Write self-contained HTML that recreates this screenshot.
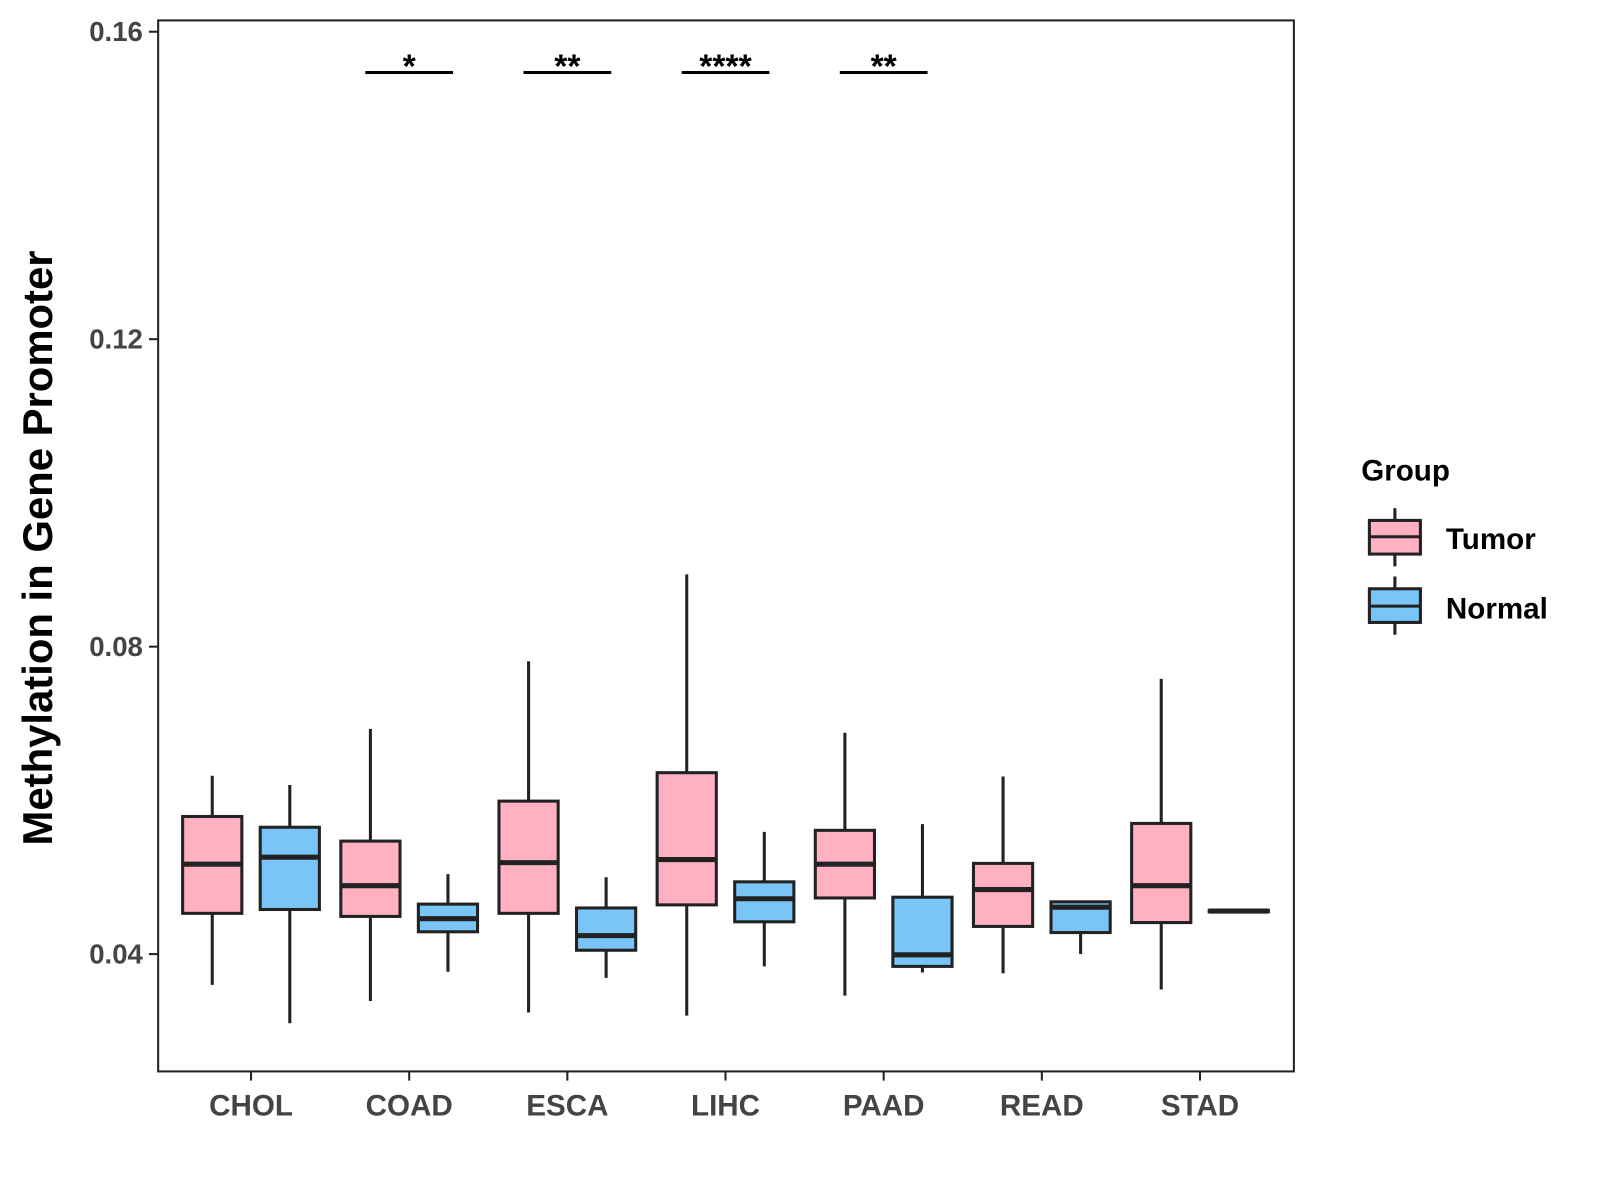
<!DOCTYPE html>
<html><head><meta charset="utf-8"><style>
body{margin:0;background:#fff;}
svg{display:block;font-family:"Liberation Sans",Arial,sans-serif;}
</style></head><body>
<svg id="chart" width="1600" height="1200" viewBox="0 0 1568 1176" xmlns="http://www.w3.org/2000/svg">
<rect x="0" y="0" width="1568" height="1176" fill="#fff"/>
<g id="marks"></g>
<rect x="155" y="20" width="1113" height="1030" fill="none" stroke="#222" stroke-width="2"/>
<g id="axes"></g>
<text transform="translate(51,537) rotate(-90)" text-anchor="middle" font-size="41" font-weight="bold" fill="#000">Methylation in Gene Promoter</text>
<g>
<text x="1334" y="471" font-size="29" font-weight="bold" fill="#000">Group</text>
<g>
<line x1="1367" y1="498" x2="1367" y2="555" stroke="#222" stroke-width="3"/>
<rect x="1342" y="510" width="50" height="33" fill="#FFB0C1" stroke="#222" stroke-width="3"/>
<line x1="1342" y1="526" x2="1392" y2="526" stroke="#222" stroke-width="3"/>
<text x="1417" y="538" font-size="29" font-weight="bold" fill="#000">Tumor</text></g>
<g>
<line x1="1367" y1="565" x2="1367" y2="622" stroke="#222" stroke-width="3"/>
<rect x="1342" y="577" width="50" height="33" fill="#7AC5F8" stroke="#222" stroke-width="3"/>
<line x1="1342" y1="594" x2="1392" y2="594" stroke="#222" stroke-width="3"/>
<text x="1417" y="606" font-size="29" font-weight="bold" fill="#000">Normal</text></g>
</g>
</svg>
<script>
const categories=["CHOL","COAD","ESCA","LIHC","PAAD","READ","STAD"];
// [min, q1, median, q3, max]
const tumorStats=[[0.0360,0.0453,0.0517,0.0579,0.0632],[0.0339,0.0449,0.0489,0.0547,0.0693],[0.0324,0.0453,0.0519,0.0599,0.0781],[0.0320,0.0464,0.0523,0.0636,0.0894],[0.0346,0.0473,0.0517,0.0561,0.0688],[0.0375,0.0436,0.0484,0.0518,0.0631],[0.0354,0.0441,0.0489,0.0570,0.0758]];
const normalStats=[[0.0310,0.0458,0.0526,0.0565,0.0620],[0.0377,0.0429,0.0446,0.0465,0.0504],[0.0369,0.0405,0.0424,0.0460,0.0500],[0.0384,0.0442,0.0472,0.0494,0.0559],[0.0376,0.0384,0.0399,0.0474,0.0569],[0.0400,0.0428,0.0461,0.0468,0.0469],[0.0454,0.0455,0.0456,0.0457,0.0458]];
const yTicks=[0.04,0.08,0.12,0.16];
const yTickLabels=["0.04","0.08","0.12","0.16"];
const sigCategories=["COAD","ESCA","LIHC","PAAD"];
const sigLabels=["*","**","****","**"];
const sigLevel=0.1547;

const NS="http://www.w3.org/2000/svg";
const y=v=>935-(v-0.04)*7532.5;
const x=i=>246+i*155;
function mk(tag,attrs,parent){const e=document.createElementNS(NS,tag);for(const k in attrs)e.setAttribute(k,attrs[k]);parent.appendChild(e);return e;}
const marks=document.getElementById('marks'),axes=document.getElementById('axes');
function box(cx,s,fill,name){
  const g=mk('g',{},marks);
  
  
  const w=58;
  mk('line',{x1:cx,x2:cx,y1:y(s[4]),y2:y(s[3]),stroke:'#222','stroke-width':3},g);
  mk('line',{x1:cx,x2:cx,y1:y(s[1]),y2:y(s[0]),stroke:'#222','stroke-width':3},g);
  mk('rect',{x:cx-w/2,y:y(s[3]),width:w,height:Math.max(y(s[1])-y(s[3]),1),fill:fill,stroke:'#222','stroke-width':3},g);
  mk('line',{x1:cx-w/2,x2:cx+w/2,y1:y(s[2]),y2:y(s[2]),stroke:'#222','stroke-width':5},g);
}
categories.forEach((c,i)=>{
  box(x(i)-38,tumorStats[i],'#FFB0C1','box-tumor-'+c.toLowerCase());
  box(x(i)+38,normalStats[i],'#7AC5F8','box-normal-'+c.toLowerCase());
  mk('line',{x1:x(i),x2:x(i),y1:1050,y2:1059,stroke:'#222','stroke-width':2},axes);
  const t=mk('text',{x:x(i),y:1093,'text-anchor':'middle','font-size':29,'font-weight':'bold',fill:'#444'},axes);
  
  
  t.textContent=c;
});
yTicks.forEach((v,i)=>{
  mk('line',{x1:146,x2:155,y1:y(v),y2:y(v),stroke:'#222','stroke-width':2},axes);
  const t=mk('text',{x:140,y:y(v)+9,'text-anchor':'end','font-size':27,'font-weight':'bold',fill:'#444'},axes);
  
  
  t.textContent=yTickLabels[i];
});
sigCategories.forEach((c,k)=>{
  const i=categories.indexOf(c);
  const g=mk('g',{},marks);
  
  
  mk('line',{x1:x(i)-43,x2:x(i)+43,y1:y(sigLevel),y2:y(sigLevel),stroke:'#000','stroke-width':3},g);
  const t=mk('text',{x:x(i),y:y(sigLevel)+5,'text-anchor':'middle','font-size':33,'font-weight':'bold',fill:'#000'},g);
  t.textContent=sigLabels[k];
});
</script>
</body></html>
